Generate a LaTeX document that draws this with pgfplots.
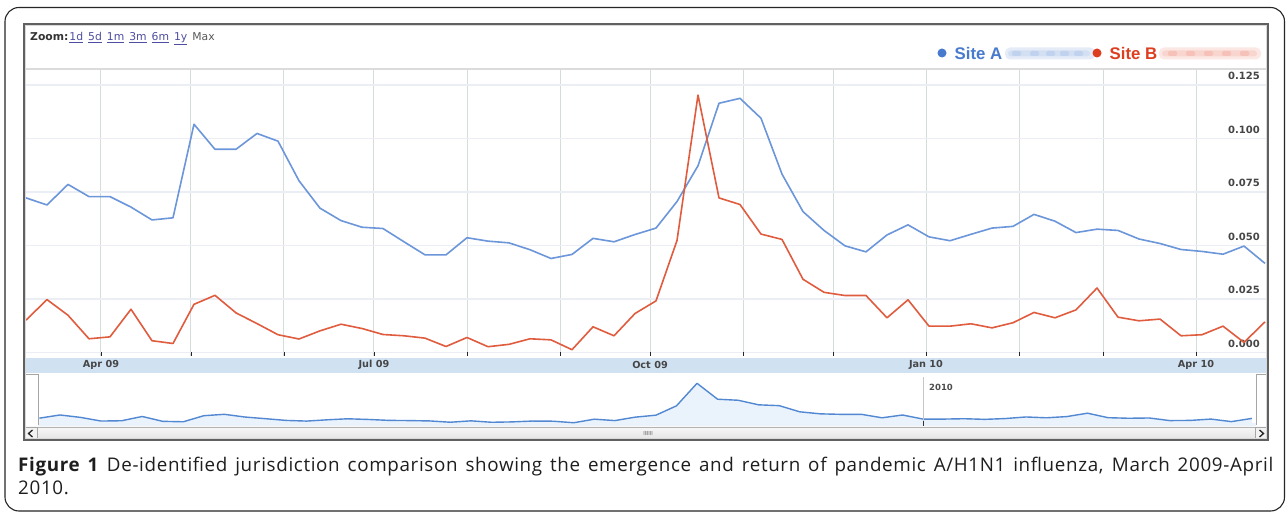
\documentclass[border=0pt]{standalone}
\usepackage{pgfplots}
\pgfplotsset{compat=1.18}
\usepackage{pgfplotstable}
\usepackage{fontspec}
\setmainfont{Open Sans}
\newfontfamily\capfont[LetterSpace=3.5]{Open Sans}
\newfontfamily\chartfont{DejaVu Sans}
\newfontfamily\legfont{Liberation Sans}
\definecolor{lineA}{RGB}{108,150,218}
\definecolor{lineB}{RGB}{224,92,62}
\definecolor{legA}{RGB}{72,122,205}
\definecolor{legB}{RGB}{222,62,32}
\definecolor{bandblue}{RGB}{208,225,242}
\definecolor{vgrid}{RGB}{212,221,217}
\definecolor{hgrid}{RGB}{236,238,246}
\definecolor{ovline}{RGB}{82,135,210}
\definecolor{ovfill}{RGB}{234,243,252}
\definecolor{linkc}{RGB}{78,78,160}
\definecolor{tickc}{RGB}{70,70,70}
\definecolor{capc}{RGB}{30,30,30}

\pgfplotstableread{
day a b
-25 0.0723 0.0152
-18 0.0690 0.0248
-11 0.0786 0.0175
-4 0.0729 0.0065
3 0.0729 0.0074
10 0.0680 0.0203
17 0.0620 0.0056
24 0.0630 0.0043
31 0.1067 0.0226
38 0.0950 0.0268
45 0.0950 0.0186
52 0.1024 0.0136
59 0.0988 0.0084
66 0.0803 0.0064
73 0.0675 0.0102
80 0.0617 0.0133
87 0.0586 0.0113
94 0.0580 0.0085
101 0.0518 0.0079
108 0.0457 0.0068
115 0.0457 0.0029
122 0.0537 0.0071
129 0.0521 0.0028
136 0.0513 0.0039
143 0.0481 0.0065
150 0.0440 0.0060
157 0.0459 0.0014
164 0.0534 0.0121
171 0.0518 0.0079
178 0.0552 0.0183
185 0.0582 0.0242
192 0.0706 0.0524
199 0.0873 0.1203
206 0.1165 0.0723
213 0.1188 0.0692
220 0.1095 0.0554
227 0.0834 0.0529
234 0.0659 0.0343
241 0.0571 0.0282
248 0.0499 0.0267
255 0.0471 0.0267
262 0.0550 0.0163
269 0.0597 0.0247
276 0.0541 0.0124
283 0.0523 0.0124
290 0.0553 0.0135
297 0.0582 0.0116
304 0.0590 0.0140
311 0.0646 0.0188
318 0.0614 0.0163
325 0.0561 0.0200
332 0.0577 0.0302
339 0.0571 0.0166
346 0.0531 0.0149
353 0.0510 0.0157
360 0.0482 0.0079
367 0.0473 0.0084
374 0.0460 0.0124
381 0.0498 0.0048
388 0.0417 0.0144
}\flu

\begin{document}
\begin{tikzpicture}
\useasboundingbox (0pt,0pt) rectangle (1287pt,514pt);
\fill[white] (0pt,0pt) rectangle (1287pt,514pt);
\begin{scope}[x=1pt,y=1pt]
% outer rounded frame
\draw[black!85, line width=1.1pt, rounded corners=14pt] (5,3) rectangle (1284.5,506.5);

% zoom line
\node[anchor=west, inner sep=0pt, font=\chartfont\fontsize{10.8}{12}\selectfont] at (30,475)
  {\textbf{\color{black!80}Zoom:}\hspace{1pt}{\color{linkc}\underline{1d}\hspace{5pt}\underline{5d}\hspace{5pt}\underline{1m}\hspace{5pt}\underline{3m}\hspace{5pt}\underline{6m}\hspace{5pt}\underline{1y}}\hspace{5pt}{\color{black!65}Max}};

% legend
\fill[legA] (942,461) circle (4.5);
\node[anchor=west, inner sep=0pt, font=\legfont\bfseries\fontsize{16.8}{18}\selectfont, text=legA] at (954.5,460.5) {Site A};
\fill[legA!14, rounded corners=5pt] (1005,454.5) rectangle (1095,466.5);
\fill[legA!24, rounded corners=3pt] (1008,457.5) rectangle (1090,463.5);
\foreach \bx in {1012,1030,1046,1060,1074} \fill[legA!34, rounded corners=2pt] (\bx,458) rectangle ++(9,5);
\fill[legB] (1097,461) circle (4.5);
\node[anchor=west, inner sep=0pt, font=\legfont\bfseries\fontsize{16.8}{18}\selectfont, text=legB] at (1109.5,460.5) {Site B};
\fill[legB!12, rounded corners=5pt] (1159,454.5) rectangle (1261,466.5);
\fill[legB!22, rounded corners=3pt] (1162,457.5) rectangle (1257,463.5);
\foreach \bx in {1168,1186,1204,1222,1240} \fill[legB!32, rounded corners=2pt] (\bx,458) rectangle ++(9,5);

% top border of plot area
\draw[gray!28, line width=1.6pt] (25,445) -- (1266,445);
% date band
\fill[bandblue] (25,141) rectangle (1266,156);
% overview fill strip below zero level
\fill[ovfill] (38,87) rectangle (1256,91);
\end{scope}

\begin{axis}[
  at={(25pt,158pt)}, anchor=south west,
  width=1241pt, height=287pt, scale only axis,
  xmin=-25.33, xmax=388.33,
  ymin=-0.00154, ymax=0.1325,
  axis line style={draw=none},
  xtick={0,30,61,91,122,153,183,214,244,275,306,334,365},
  xticklabels={Apr 09,,,Jul 09,,,Oct 09,,,Jan 10,,,Apr 10},
  xtick pos=bottom, tick align=inside,
  major tick length=4pt,
  xtick style={black!85, line width=0.9pt},
  xmajorgrids, major x grid style={vgrid, line width=1pt},
  ytick={0,0.025,0.05,0.075,0.1,0.125},
  yticklabels={0.000,0.025,0.050,0.075,0.100,0.125},
  ymajorgrids, major y grid style={hgrid, line width=1.5pt},
  ytick style={draw=none},
  yticklabel pos=right,
  yticklabel style={anchor=south east, xshift=-6pt, yshift=5pt, inner sep=0pt,
    font=\chartfont\bfseries\fontsize{10}{12}\selectfont, text=tickc},
  xticklabel style={anchor=center, yshift=-9pt, inner sep=0pt,
    font=\chartfont\bfseries\fontsize{9.7}{11}\selectfont, text=tickc},
]
\addplot[lineA, line width=1.6pt, line join=round] table[x=day,y=a]{\flu};
\addplot[lineB, line width=1.6pt, line join=round] table[x=day,y=b]{\flu};
\end{axis}

% overview
\begin{axis}[
  at={(38pt,87pt)}, anchor=south west,
  width=1218pt, height=52pt, scale only axis,
  xmin=-25.48, xmax=389.4, ymin=-0.01146, ymax=0.14535,
  hide axis,
]
\addplot[draw=none, fill=ovfill] table[x=day,y=b]{\flu} \closedcycle;
\addplot[ovline, line width=1.4pt, line join=round] table[x=day,y=b]{\flu};
\end{axis}

\begin{scope}[x=1pt,y=1pt]
% 2010 marker
\draw[gray!45, line width=0.6pt] (923,89) -- (923,137);
\draw[black!80, line width=0.9pt] (923,87) -- (923,93);
\node[anchor=west, inner sep=0pt, font=\chartfont\bfseries\fontsize{8.5}{10}\selectfont, text=black!70] at (929,127) {2010};

% overview handles
\filldraw[fill=white, draw=gray!70, line width=1pt] (24,87) -- (24,139) -- (38.5,139) -- (38.5,89);
\filldraw[fill=white, draw=gray!70, line width=1pt] (1268,87) -- (1268,139) -- (1256,139) -- (1256,89);

% scrollbar
\shade[top color=gray!6, bottom color=gray!22] (24,74) rectangle (1268,87);
\draw[gray!60, line width=0.6pt] (24,87) -- (1268,87);
\draw[gray!70, line width=0.8pt, fill=gray!10] (24,74) rectangle (37,87);
\draw[black!85, line width=1.3pt] (32.5,77) -- (28.5,80.5) -- (32.5,84);
\draw[gray!70, line width=0.8pt, fill=gray!10] (1255,74) rectangle (1268,87);
\draw[black!85, line width=1.3pt] (1259.5,77) -- (1263.5,80.5) -- (1259.5,84);
\fill[gray!40] (643,78.5) rectangle (653,83);
\foreach \gx in {645,647.5,650} \draw[gray!70, line width=0.5pt] (\gx,78.5) -- (\gx,83);

% widget frame
\draw[gray!75!black, line width=2pt] (24,74) rectangle (1268,490);
\draw[gray!30, line width=0.7pt] (25.6,75.6) rectangle (1266.4,488.4);

% caption
\node[anchor=north west, inner sep=0pt] at (18,57) {\parbox{1255pt}{\capfont\fontsize{18.8}{23}\selectfont\color{capc}\textbf{Figure 1} De-identified jurisdiction comparison showing the emergence and return of pandemic A/H1N1 influenza, March 2009-April\linebreak 2010.}};
\end{scope}
\end{tikzpicture}
\end{document}
